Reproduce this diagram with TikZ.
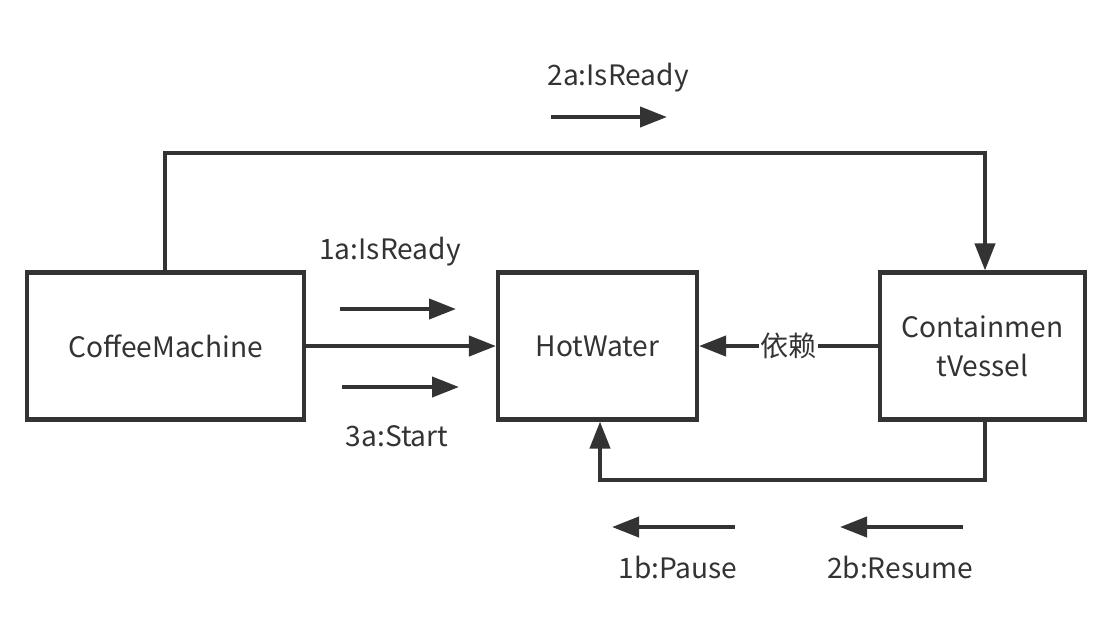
\documentclass[tikz,border=0pt]{standalone}
\usepackage{fontspec}
\setmainfont{Noto Sans CJK SC}
\usepackage{tikz}
\usetikzlibrary{arrows.meta}
\definecolor{ink}{HTML}{333333}
\tikzset{
  box/.style={draw=ink, text=ink, line width=1.15pt, minimum width=#1, minimum height=1.47cm, inner sep=0pt, align=center},
  link/.style={draw=ink, line width=1.15pt, -{Triangle[length=0.27cm, width=0.2cm]}},
  lbl/.style={text=ink, font=\fontsize{8}{9.5}\selectfont, inner sep=1pt}
}
\begin{document}
\begin{tikzpicture}[x=1cm, y=-1cm, font=\fontsize{8}{11}\selectfont]
\useasboundingbox (0,0) rectangle (11.12,6.4);
% boxes
\node[box=2.77cm] (coffee) at (1.655,3.46) {CoffeeMachine};
\node[box=1.99cm] (hot) at (5.975,3.46) {HotWater};
\node[box=2.05cm] (vessel) at (9.825,3.46) {Containmen\\tVessel};
% connectors
\coordinate (top) at (9.85,1.53);
\coordinate (low) at (6.0,4.8);
\draw[link] (coffee.north -| 1.65,0) |- (top) -- (top |- vessel.north);
\draw[link] (coffee) -- (hot);
\draw[link] (vessel) -- node[fill=white, lbl, inner sep=0.3pt] {依赖} (hot);
\draw[link] (vessel.south -| top) |- (low) -- (low |- hot.south);
% message arrows
\coordinate (m2a) at (5.51,1.17); \coordinate (m2a') at (6.67,1.17);
\coordinate (m1a) at (3.40,3.09); \coordinate (m1a') at (4.56,3.09);
\coordinate (m3a) at (3.42,3.87); \coordinate (m3a') at (4.59,3.87);
\coordinate (m1b) at (7.35,5.27); \coordinate (m1b') at (6.12,5.27);
\coordinate (m2b) at (9.63,5.27); \coordinate (m2b') at (8.40,5.27);
\foreach \a in {m2a,m1a,m3a,m1b,m2b}
  \draw[link] (\a) -- (\a');
\node[lbl] (t2a) at (6.18,0.78) {2a:IsReady};
\node[lbl] (t1a) at (3.90,2.52) {1a:IsReady};
\node[lbl] (t3a) at (3.97,4.36) {3a:Start};
\node[lbl] (t1b) at (6.78,5.67) {1b:Pause};
\node[lbl] (t2b) at (9.00,5.67) {2b:Resume};
\end{tikzpicture}
\end{document}
